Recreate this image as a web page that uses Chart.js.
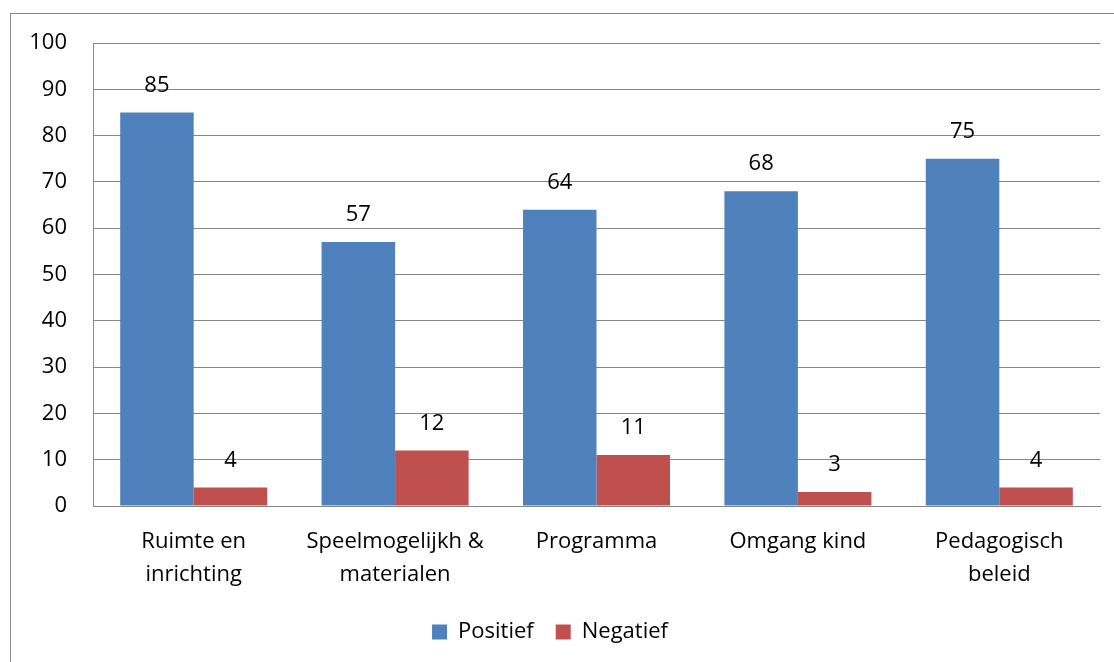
<!DOCTYPE html>
<html>
<head>
<meta charset="utf-8">
<script src="https://cdn.jsdelivr.net/npm/chart.js@4"></script>
<style>
  html, body { margin: 0; padding: 0; background: #fff; }
  #wrap { width: 1114px; height: 662px; }
</style>
</head>
<body>
<div id="wrap"><canvas id="c" width="1114" height="662"></canvas></div>
<script>
const categories = [["Ruimte en", "inrichting"], ["Speelmogelijkh &", "materialen"], "Programma", "Omgang kind", ["Pedagogisch", "beleid"]];
const positief = [85, 57, 64, 68, 75];
const negatief = [4, 12, 11, 3, 4];
const yTicks = [0, 10, 20, 30, 40, 50, 60, 70, 80, 90, 100];

const FONT = "'Open Sans', sans-serif";
const FS = 22;
const GRID = '#868686';

const frame = {
  id: 'frame',
  beforeDraw(chart) {
    const ctx = chart.ctx;
    ctx.save();
    ctx.fillStyle = '#fff';
    ctx.fillRect(0, 0, chart.width, chart.height);
    ctx.strokeStyle = GRID;
    ctx.lineWidth = 1;
    ctx.strokeRect(10.5, 13.5, 1300, 800);
    ctx.restore();
  }
};

const labels = {
  id: 'labels',
  afterDatasetsDraw(chart) {
    const ctx = chart.ctx;
    ctx.save();
    ctx.font = FS + 'px ' + FONT;
    ctx.fillStyle = '#000';
    ctx.textAlign = 'center';
    ctx.textBaseline = 'middle';
    chart.data.datasets.forEach((ds, i) => {
      chart.getDatasetMeta(i).data.forEach((bar, j) => {
        ctx.fillText(String(ds.data[j]), bar.x, bar.y - 27);
      });
    });
    ctx.restore();
  }
};

new Chart(document.getElementById('c'), {
  type: 'bar',
  data: {
    labels: categories,
    datasets: [
      { label: 'Positief', data: positief, backgroundColor: '#4F81BD', categoryPercentage: 0.73, barPercentage: 1.0 },
      { label: 'Negatief', data: negatief, backgroundColor: '#C0504D', categoryPercentage: 0.73, barPercentage: 1.0 }
    ]
  },
  options: {
    responsive: false,
    animation: false,
    devicePixelRatio: 1,
    layout: { padding: { left: 0, top: 43, right: 14, bottom: 9 } },
    plugins: {
      tooltip: { enabled: false },
      legend: {
        position: 'bottom',
        labels: {
          font: { family: FONT, size: FS },
          color: '#000',
          boxWidth: 15,
          boxHeight: 15,
          padding: 22
        }
      }
    },
    scales: {
      x: {
        grid: { display: false, drawTicks: false },
        border: { display: true, color: GRID, width: 1 },
        ticks: { color: '#000', font: { family: FONT, size: FS, lineHeight: 1.5 }, padding: 19, maxRotation: 0, autoSkip: false },
        afterFit(scale) { scale.height = 93; }
      },
      y: {
        min: 0, max: 100,
        afterBuildTicks(scale) { scale.ticks = yTicks.map(v => ({ value: v })); },
        grid: { color: GRID, lineWidth: 1, drawTicks: false },
        border: { display: true, color: GRID, width: 1 },
        ticks: { color: '#000', font: { family: FONT, size: FS }, padding: 26 },
        afterFit(scale) { scale.width = 93; }
      }
    }
  },
  plugins: [frame, labels]
});
</script>
</body>
</html>
